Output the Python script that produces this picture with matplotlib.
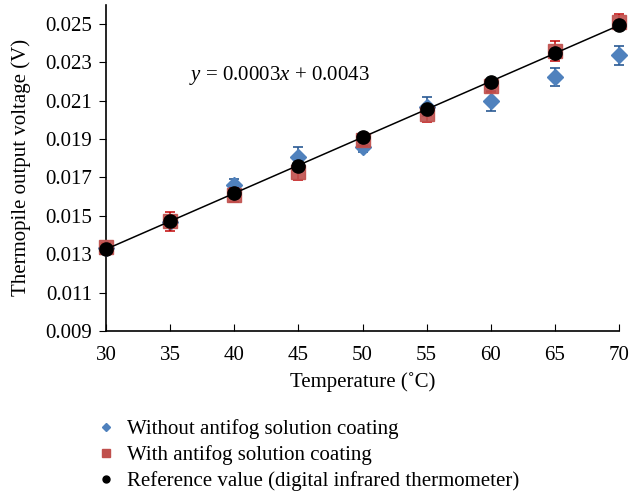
import numpy as np
import matplotlib
matplotlib.use("Agg")
import matplotlib.pyplot as plt
from matplotlib.lines import Line2D

# data
temps = [30, 35, 40, 45, 50, 55, 60, 65, 70]
without_coat = [0.01330, 0.01470, 0.01660, 0.01808, 0.01860, 0.02068, 0.02098, 0.02225, 0.02337]
without_err = [0.0002, 0.0002, 0.0003, 0.0005, 0.0003, 0.0005, 0.0005, 0.00047, 0.0005]
with_coat = [0.01339, 0.01472, 0.01608, 0.01727, 0.01895, 0.02029, 0.02176, 0.02358, 0.02511]
with_err = [0.0002, 0.0005, 0.00035, 0.0004, 0.0003, 0.0004, 0.0003, 0.0005, 0.0004]
reference = [0.01327, 0.01473, 0.01617, 0.01761, 0.01909, 0.02055, 0.02199, 0.02346, 0.02494]

xticks = [30, 35, 40, 45, 50, 55, 60, 65, 70]
yticks = [0.009, 0.011, 0.013, 0.015, 0.017, 0.019, 0.021, 0.023, 0.025]

plt.rcParams['font.family'] = ['Liberation Serif', 'DejaVu Serif']
plt.rcParams['font.size'] = 15
plt.rcParams['mathtext.fontset'] = 'custom'
plt.rcParams['mathtext.rm'] = 'Liberation Serif'
plt.rcParams['mathtext.it'] = 'Liberation Serif:italic'

blue = '#4F81BD'
red = '#C0504D'

fig = plt.figure(figsize=(6.31, 4.93), dpi=100)
ax = fig.add_axes([0.168, 0.3286, 0.813, 0.662])

eb1 = ax.errorbar(temps, without_coat, yerr=without_err, fmt='D', color=blue, ms=8.5,
                  ecolor='#2A5A94', elinewidth=1.2, capsize=3.5, capthick=1.2, zorder=3)
eb2 = ax.errorbar(temps, with_coat, yerr=with_err, fmt='s', color=red, alpha=0.9, ms=10,
                  ecolor='#C00000', elinewidth=1.2, capsize=3.5, capthick=1.2, zorder=4)
for eb in (eb1, eb2):
    for art in eb.get_children():
        art.set_clip_on(False)

# linear trend through the reference values
coef = np.polyfit(temps, reference, 1)
xs = np.array([temps[0], temps[-1]])
ax.plot(xs, np.polyval(coef, xs), color='black', lw=1.1, zorder=5)
ax.plot(temps, reference, 'o', color='black', ms=9.5, zorder=6, clip_on=False)

ax.text(36.5, 0.02233, r'$y$ = 0.0003$x$ + 0.0043', fontsize=15, va='center')

ax.set_xlim(30, 70)
ax.set_ylim(0.009, 0.026)
ax.set_xticks(xticks)
ax.set_yticks(yticks)
ax.set_yticklabels(['%.3f' % v for v in yticks])
ax.tick_params(axis='x', direction='in', length=5, pad=11)
ax.tick_params(axis='y', direction='out', length=5, pad=5)
for s in ['top', 'right']:
    ax.spines[s].set_visible(False)
ax.spines['left'].set_linewidth(1.2)
ax.spines['bottom'].set_linewidth(1.2)

ax.set_xlabel('Temperature (˚C)', labelpad=5)
ax.set_ylabel('Thermopile output voltage (V)', labelpad=10)

handles = [
    Line2D([], [], ls='none', marker='D', color=blue, ms=4.5),
    Line2D([], [], ls='none', marker='s', color=red, ms=6),
    Line2D([], [], ls='none', marker='o', color='black', ms=5),
]
labels = ['Without antifog solution coating', 'With antifog solution coating',
          'Reference value (digital infrared thermometer)']
fig.legend(handles, labels, loc='upper left', bbox_to_anchor=(0.139, 0.171),
           bbox_transform=fig.transFigure, frameon=False, handlelength=0.8,
           handletextpad=0.6, labelspacing=0.3, borderpad=0, fontsize=15)

fig.savefig('out.png', dpi=100)
